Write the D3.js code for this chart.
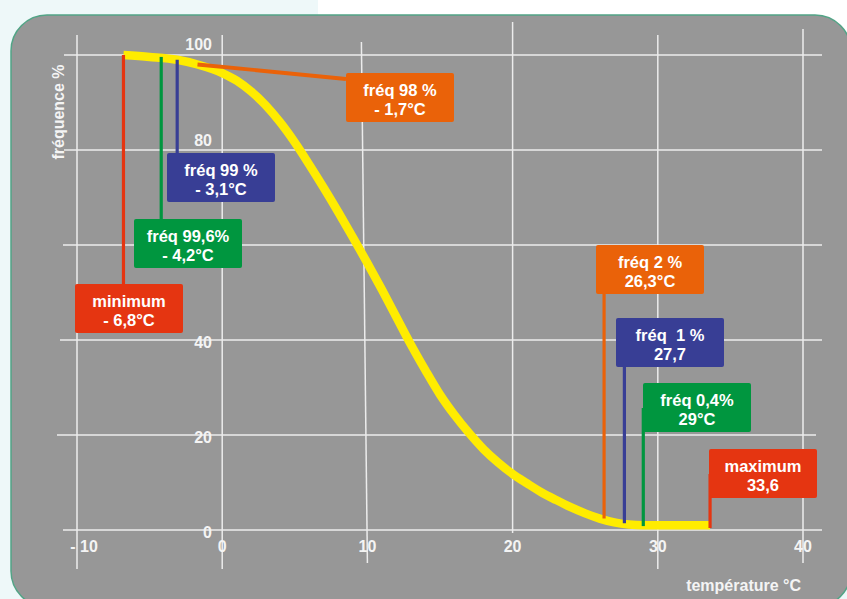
<!DOCTYPE html>
<html>
<head>
<meta charset="utf-8">
<script src="https://cdn.jsdelivr.net/npm/d3@7/dist/d3.min.js"></script>
<style>
  html, body { margin: 0; padding: 0; background: #eef8f9; }
  svg { display: block; }
  text { font-family: "Liberation Sans", Arial, sans-serif; font-weight: bold; }
</style>
</head>
<body>
<svg id="chart" width="847" height="599"></svg>
<script>
// ---------------- DATA ----------------
const xTicks = [-10, 0, 10, 20, 30, 40];
const xTickLabels = ["- 10", "0", "10", "20", "30", "40"];
const yTicks = [0, 20, 40, 60, 80, 100];
// the "60" label is hidden behind the 99,6% box in the reference
const yTickLabels = ["0", "20", "40", "", "80", "100"];

// cumulative frequency curve (temperature °C, frequency %)
const curveTemp = [-6.8, -5, -3.1, -1.7, 0, 1, 2, 3, 4, 5, 6, 7, 8, 9, 10, 11, 12, 13, 14, 15, 16, 17, 18, 19, 20, 21, 22, 23, 24, 25, 26, 27, 28, 29, 31, 33.6];
const curveFreq = [100, 99.6, 99, 98, 96.2, 94.6, 92.3, 89.4, 85.8, 81.6, 76.9, 72, 66.9, 61.6, 56.2, 50.6, 44.8, 39, 33.6, 28.5, 24.2, 20.4, 17, 14.2, 11.8, 9.8, 7.9, 6.3, 4.8, 3.5, 2.4, 1.6, 1.15, 1.0, 1.0, 1.0];

// annotated markers
const markerLine1 = ["minimum", "fréq 99,6%", "fréq 99 %", "fréq 98 %", "fréq 2 %", "fréq  1 %", "fréq 0,4%", "maximum"];
const markerLine2 = ["- 6,8°C", "- 4,2°C", "- 3,1°C", "- 1,7°C", "26,3°C", "27,7", "29°C", "33,6"];
const markerTemp = [-6.8, -4.2, -3.1, -1.7, 26.3, 27.7, 29, 33.6];
const markerFreq = [100, 99.6, 99, 98, 2, 1, 0.4, 0];

// ---------------- STYLE / LAYOUT ----------------
const markerColor = ["#e53511", "#00963f", "#383e95", "#ea6209", "#ea6209", "#383e95", "#00963f", "#e53511"];
const boxLayout = [
  { x: 75,  y: 284, stem: "down" },
  { x: 134, y: 219, stem: "down" },
  { x: 167, y: 153, stem: "down" },
  { x: 346, y: 73,  stem: "diag" },
  { x: 596, y: 245, stem: "up" },
  { x: 616, y: 318, stem: "up" },
  { x: 643, y: 383, stem: "up" },
  { x: 709, y: 449, stem: "up" }
];
const boxW = 108, boxH = 49;
const yLabelDy = [8, 8, 8, 6, -4, -5];
const vGridTop = [35, 35, 42, 22, 35, 29];
const vGridTopDx = [0, 0, -6, 0, 0, 0];
const vGridBottom = [569, 569, 563, 533, 569, 563];
const hGridLeft = [63, 57, 60, 63, 64, 64];
const hGridRight = [822, 816, 822, 822, 822, 822];

const svg = d3.select("#chart");

svg.append("rect").attr("x", 0).attr("y", 0).attr("width", 847).attr("height", 599).attr("fill", "#eef8f9");
svg.append("rect").attr("x", 318).attr("y", 0).attr("width", 529).attr("height", 40).attr("fill", "#ffffff");

svg.append("rect")
  .attr("x", 11).attr("y", 15).attr("width", 840).attr("height", 592)
  .attr("rx", 36).attr("ry", 36)
  .attr("fill", "#979797").attr("stroke", "#52a486").attr("stroke-width", 1.5);

const x = d3.scaleLinear().domain([-10, 40]).range([77, 803]);
const y = d3.scaleLinear().domain([0, 100]).range([530, 55]);

const grid = svg.append("g").attr("stroke", "#ececec").attr("stroke-width", 1.5);
grid.selectAll("line.h").data(yTicks).join("line")
  .attr("class", "h")
  .attr("x1", (d, i) => hGridLeft[i]).attr("x2", (d, i) => hGridRight[i])
  .attr("y1", d => y(d)).attr("y2", d => y(d));
grid.selectAll("line.v").data(xTicks).join("line")
  .attr("class", "v")
  .attr("x1", (d, i) => x(d) + vGridTopDx[i]).attr("x2", d => x(d))
  .attr("y1", (d, i) => vGridTop[i]).attr("y2", (d, i) => vGridBottom[i]);

svg.append("g").selectAll("text").data(yTicks.filter((d, i) => yTickLabels[i] !== "")).join("text")
  .attr("x", 212).attr("y", d => y(d) + yLabelDy[yTicks.indexOf(d)])
  .attr("text-anchor", "end").attr("font-size", 16).attr("fill", "#f4f4f4")
  .text(d => yTickLabels[yTicks.indexOf(d)]);

svg.append("g").selectAll("text").data(xTicks).join("text")
  .attr("x", d => x(d) + (d < 0 ? 7 : 0)).attr("y", 552)
  .attr("text-anchor", "middle").attr("font-size", 16).attr("fill", "#f4f4f4")
  .text((d, i) => xTickLabels[i]);

svg.append("text")
  .attr("transform", "translate(64,112) rotate(-90)")
  .attr("text-anchor", "middle").attr("font-size", 16).attr("fill", "#f4f4f4")
  .text("fréquence %");
svg.append("text")
  .attr("x", 801).attr("y", 591)
  .attr("text-anchor", "end").attr("font-size", 16).attr("fill", "#f4f4f4")
  .text("température °C");

const curvePts = curveTemp.map((t, i) => [t, curveFreq[i]]);
const line = d3.line().x(d => x(d[0])).y(d => y(d[1])).curve(d3.curveMonotoneX);
svg.append("path")
  .datum(curvePts)
  .attr("d", line)
  .attr("fill", "none").attr("stroke", "#ffec00").attr("stroke-width", 8.5)
  .attr("stroke-linecap", "butt").attr("stroke-linejoin", "round");

const stems = svg.append("g");
markerTemp.forEach((t, i) => {
  const b = boxLayout[i];
  const px = x(t), py = y(markerFreq[i]);
  if (b.stem === "down") {
    stems.append("line").attr("x1", px).attr("x2", px).attr("y1", py).attr("y2", b.y)
      .attr("stroke", markerColor[i]).attr("stroke-width", 3.2);
  } else if (b.stem === "up") {
    stems.append("line").attr("x1", px).attr("x2", px).attr("y1", b.y + 25).attr("y2", py - 2)
      .attr("stroke", markerColor[i]).attr("stroke-width", 3.2);
  } else {
    stems.append("line").attr("x1", px).attr("x2", b.x).attr("y1", py).attr("y2", b.y + 6)
      .attr("stroke", markerColor[i]).attr("stroke-width", 3.8);
  }
});

const boxes = svg.append("g").selectAll("g").data(markerTemp).join("g")
  .attr("transform", (d, i) => `translate(${boxLayout[i].x},${boxLayout[i].y})`);
boxes.append("rect")
  .attr("width", boxW).attr("height", boxH).attr("rx", 2)
  .attr("fill", (d, i) => markerColor[i]);
boxes.append("text")
  .attr("x", boxW / 2).attr("y", 23).attr("text-anchor", "middle")
  .attr("font-size", 16.5).attr("fill", "#ffffff").style("white-space", "pre")
  .text((d, i) => markerLine1[i]);
boxes.append("text")
  .attr("x", boxW / 2).attr("y", 42).attr("text-anchor", "middle")
  .attr("font-size", 16.5).attr("fill", "#ffffff").style("white-space", "pre")
  .text((d, i) => markerLine2[i]);
</script>
</body>
</html>
